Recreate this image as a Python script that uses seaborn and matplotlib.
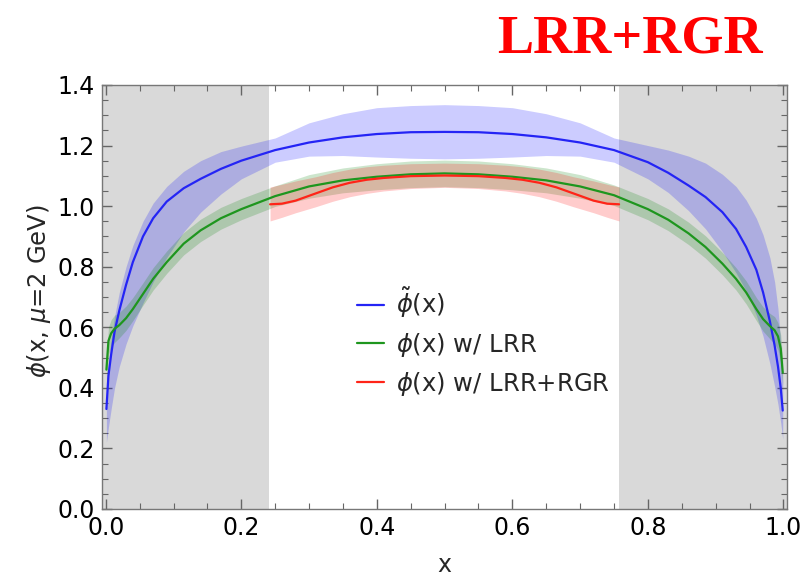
import numpy as np
import pandas as pd
import matplotlib
matplotlib.use("Agg")
import matplotlib.pyplot as plt
from matplotlib.ticker import MultipleLocator, FormatStrFormatter
import seaborn as sns

# ---- data -------------------------------------------------------------
x_full = [0.001, 0.004, 0.008, 0.013, 0.02, 0.03, 0.04, 0.055, 0.07, 0.09,
          0.115, 0.14, 0.17, 0.2, 0.25, 0.3, 0.35, 0.4, 0.45, 0.5,
          0.55, 0.6, 0.65, 0.7, 0.75, 0.8, 0.83, 0.86, 0.885, 0.91,
          0.93, 0.945, 0.96, 0.97, 0.98, 0.987, 0.992, 0.996, 0.999]

phi_tilde = [0.33, 0.44, 0.51, 0.585, 0.655, 0.74, 0.815, 0.90, 0.96, 1.015,
             1.059, 1.09, 1.123, 1.15, 1.185, 1.21, 1.227, 1.238, 1.244, 1.245,
             1.244, 1.238, 1.227, 1.21, 1.185, 1.145, 1.11, 1.068, 1.03, 0.98,
             0.925, 0.865, 0.79, 0.715, 0.62, 0.54, 0.47, 0.40, 0.325]
phi_tilde_hi = [0.42, 0.49, 0.56, 0.635, 0.715, 0.80, 0.87, 0.95, 1.01, 1.065,
                1.115, 1.15, 1.18, 1.198, 1.225, 1.275, 1.305, 1.325, 1.332, 1.335,
                1.332, 1.325, 1.305, 1.275, 1.225, 1.20, 1.185, 1.165, 1.142, 1.105,
                1.065, 1.02, 0.96, 0.905, 0.83, 0.75, 0.66, 0.55, 0.42]
phi_tilde_lo = [0.22, 0.27, 0.33, 0.40, 0.47, 0.545, 0.605, 0.68, 0.75, 0.83,
                0.915, 0.98, 1.04, 1.09, 1.145, 1.165, 1.167, 1.162, 1.158, 1.156,
                1.158, 1.162, 1.167, 1.165, 1.145, 1.09, 1.045, 0.985, 0.925, 0.85,
                0.78, 0.72, 0.64, 0.57, 0.48, 0.405, 0.345, 0.285, 0.23]

phi_lrr = [0.46, 0.555, 0.58, 0.595, 0.607, 0.63, 0.66, 0.71, 0.76, 0.815,
           0.876, 0.92, 0.96, 0.99, 1.033, 1.065, 1.085, 1.097, 1.105, 1.108,
           1.105, 1.097, 1.085, 1.065, 1.036, 0.99, 0.955, 0.91, 0.865, 0.81,
           0.76, 0.715, 0.66, 0.627, 0.604, 0.59, 0.57, 0.53, 0.45]
phi_lrr_hi = [0.50, 0.60, 0.625, 0.64, 0.649, 0.67, 0.698, 0.747, 0.797, 0.852,
              0.913, 0.957, 0.996, 1.025, 1.067, 1.104, 1.126, 1.14, 1.149, 1.152,
              1.149, 1.14, 1.126, 1.104, 1.070, 1.025, 0.991, 0.947, 0.902, 0.847,
              0.797, 0.753, 0.698, 0.667, 0.646, 0.635, 0.615, 0.575, 0.49]
phi_lrr_lo = [0.42, 0.51, 0.535, 0.55, 0.565, 0.59, 0.622, 0.673, 0.723, 0.778,
              0.839, 0.883, 0.924, 0.955, 0.999, 1.026, 1.044, 1.054, 1.061, 1.064,
              1.061, 1.054, 1.044, 1.026, 1.002, 0.955, 0.919, 0.873, 0.828, 0.773,
              0.723, 0.677, 0.622, 0.587, 0.562, 0.545, 0.525, 0.485, 0.41]

x_mid = [0.2425, 0.26, 0.28, 0.31, 0.335, 0.36, 0.385, 0.41, 0.45, 0.5,
         0.55, 0.59, 0.615, 0.64, 0.665, 0.69, 0.72, 0.74, 0.7575]
phi_rgr = [1.006, 1.008, 1.018, 1.042, 1.062, 1.077, 1.087, 1.093, 1.099, 1.101,
           1.099, 1.093, 1.087, 1.077, 1.062, 1.042, 1.018, 1.008, 1.006]
phi_rgr_hi = [1.063, 1.072, 1.083, 1.097, 1.111, 1.122, 1.13, 1.135, 1.14, 1.142,
              1.14, 1.135, 1.13, 1.122, 1.111, 1.097, 1.083, 1.072, 1.063]
phi_rgr_lo = [0.951, 0.963, 0.978, 0.998, 1.016, 1.031, 1.042, 1.05, 1.058, 1.062,
              1.058, 1.05, 1.042, 1.031, 1.016, 0.998, 0.978, 0.963, 0.951]

endpoint_regions = [(-0.0055, 0.2405), (0.757, 1.0055)]

labels = [r"$\tilde{\phi}$(x)", r"$\phi$(x) w/ LRR", r"$\phi$(x) w/ LRR+RGR"]
line_colors = ["#2424f5", "#1e961e", "#ff2418"]
band_colors = ["#0000ff", "#008000", "#ff0000"]

# ---- style ------------------------------------------------------------
sns.set_theme(style="ticks")
plt.rcParams["font.family"] = ["DejaVu Sans"]
plt.rcParams["mathtext.fontset"] = "dejavusans"

fig = plt.figure(figsize=(8.07, 5.78), dpi=100)
ax = fig.add_axes([0.1264, 0.1194, 0.849, 0.7336])

for lo, hi in endpoint_regions:
    ax.axvspan(lo, hi, color="#d9d9d9", lw=0, zorder=0)

curves = [
    (x_full, phi_tilde, phi_tilde_lo, phi_tilde_hi),
    (x_full, phi_lrr, phi_lrr_lo, phi_lrr_hi),
    (x_mid, phi_rgr, phi_rgr_lo, phi_rgr_hi),
]

for (xs, ys, lo, hi), bc in zip(curves, band_colors):
    ax.fill_between(xs, lo, hi, color=bc, alpha=0.2, lw=0, zorder=1)

for (xs, ys, lo, hi), lc, lab in zip(curves, line_colors, labels):
    df = pd.DataFrame({"x": xs, "phi": ys})
    sns.lineplot(data=df, x="x", y="phi", ax=ax, color=lc, lw=1.6,
                 label=lab, sort=False, zorder=3)

ax.set_xlim(-0.0055, 1.0055)
ax.set_ylim(0, 1.4)
ax.xaxis.set_major_locator(MultipleLocator(0.2))
ax.xaxis.set_minor_locator(MultipleLocator(0.05))
ax.yaxis.set_major_locator(MultipleLocator(0.2))
ax.yaxis.set_minor_locator(MultipleLocator(0.05))
ax.xaxis.set_major_formatter(FormatStrFormatter("%.1f"))
ax.yaxis.set_major_formatter(FormatStrFormatter("%.1f"))
ax.tick_params(which="both", direction="in", top=True, right=True,
               color="#666666", labelsize=17, labelcolor="black")
ax.tick_params(which="major", length=7, width=1.0, pad=5)
ax.tick_params(which="minor", length=4, width=0.8)
for sp in ax.spines.values():
    sp.set_color("#777777")
    sp.set_linewidth(1.0)

ax.set_xlabel("x", fontsize=17)
ax.xaxis.set_label_coords(0.5, -0.149)
ax.xaxis.label.set_va("baseline")
ax.set_ylabel(r"$\phi$(x, $\mu$=2 GeV)", fontsize=17.5)
ax.yaxis.set_label_coords(-0.092, 0.513)
ax.yaxis.label.set_va("center")

ax.legend(loc="center left", bbox_to_anchor=(0.372, 0.395), frameon=False,
          fontsize=17.5, handlelength=1.1, handletextpad=0.5,
          labelspacing=0.45, borderpad=0, borderaxespad=0)

fig.text(0.9455, 0.91, "LRR+RGR", color="red", fontsize=39,
         fontweight="bold", family="Liberation Serif",
         ha="right", va="baseline")

fig.savefig("out.png", dpi=100)
